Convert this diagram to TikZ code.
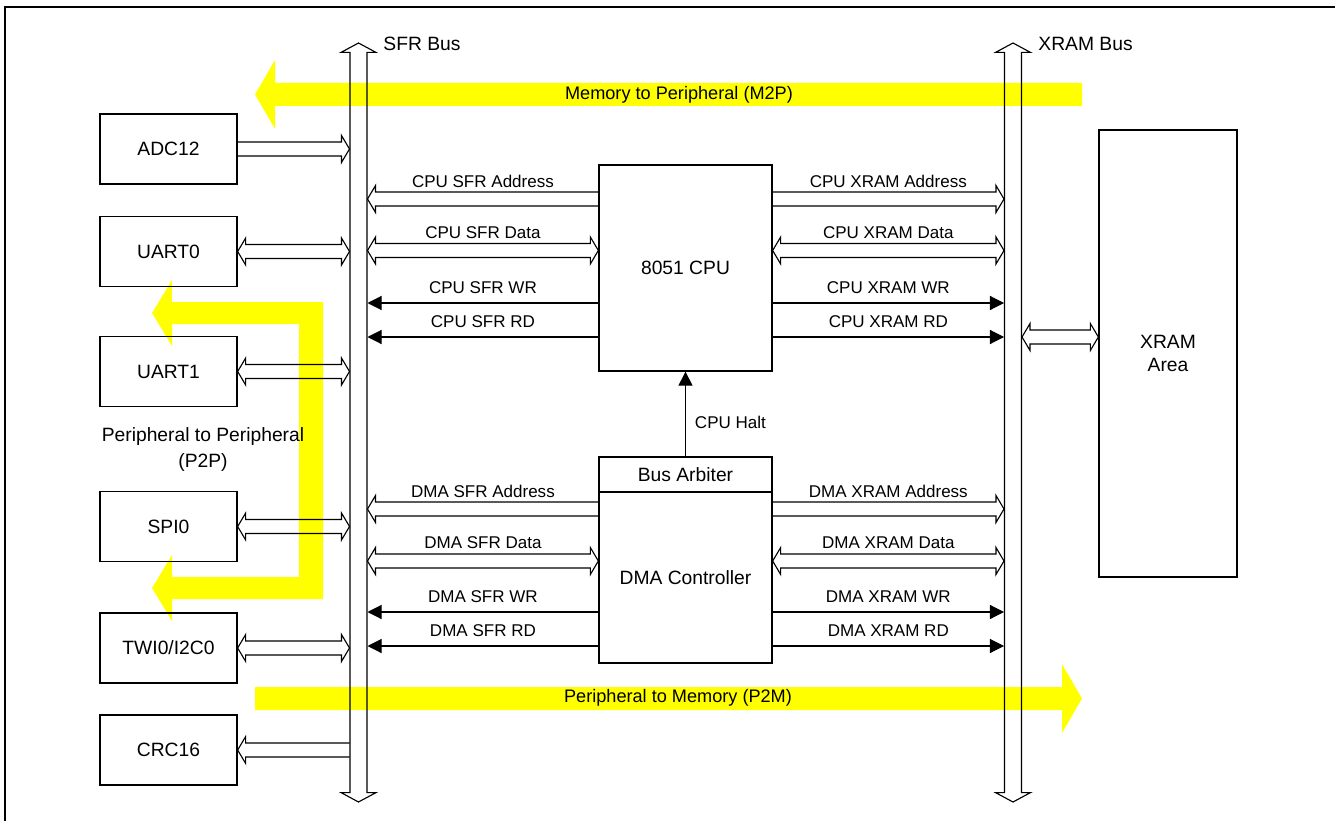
\documentclass[tikz,border=0pt]{standalone}
\usepackage{fontspec}
\setmainfont{Liberation Sans}
\usetikzlibrary{arrows.meta, calc}
\definecolor{flowyellow}{RGB}{255,255,0}
\newcommand{\biglabel}{\fontsize{13.7pt}{17.8pt}\selectfont}
\newcommand{\smalllabel}{\fontsize{12.1pt}{14.5pt}\selectfont}
\newcommand{\flowlabel}{\fontsize{12.9pt}{15pt}\selectfont}

% hollow block arrow sizes: half body width, half head width, head length
\def\hbody{4.98pt}
\def\hhead{9.6pt}
\def\hlen{5.7pt}

% hollow arrow, head at the second end
\newcommand{\hollowone}[3]{%
  \coordinate (ha) at #1; \coordinate (hb) at #2;
  \coordinate (hbbase) at ($(hb)!\hlen!(ha)$);
  \draw[hollowline] ($(ha)!\hbody!90:(hb)$) -- ($(hbbase)!\hbody!90:(hb)$) -- ($(hbbase)!\hhead!90:(hb)$) -- (hb)
    -- ($(hbbase)!\hhead!-90:(hb)$) -- ($(hbbase)!\hbody!-90:(hb)$) -- ($(ha)!\hbody!-90:(hb)$);
  \path (ha) -- (hb) node[widelabel] {#3};}

% hollow arrow, heads at both ends
\newcommand{\hollowtwo}[3]{%
  \coordinate (ha) at #1; \coordinate (hb) at #2;
  \coordinate (habase) at ($(ha)!\hlen!(hb)$);
  \coordinate (hbbase) at ($(hb)!\hlen!(ha)$);
  \draw[hollowline] (ha) -- ($(habase)!\hhead!90:(hb)$) -- ($(habase)!\hbody!90:(hb)$) -- ($(hbbase)!\hbody!90:(hb)$)
    -- ($(hbbase)!\hhead!90:(hb)$) -- (hb) -- ($(hbbase)!\hhead!-90:(hb)$) -- ($(hbbase)!\hbody!-90:(hb)$)
    -- ($(habase)!\hbody!-90:(hb)$) -- ($(habase)!\hhead!-90:(hb)$) -- cycle;
  \path (ha) -- (hb) node[widelabel] {#3};}

\begin{document}
\begin{tikzpicture}[x=0.025cm, y=-0.025cm,
  every node/.style={font=\biglabel},
  periph/.style={draw, line width=0.9pt, minimum width=3.425cm, minimum height=1.75cm},
  unit/.style={draw, line width=0.9pt, minimum width=4.325cm},
  hollowline/.style={line width=0.8pt},
  signal/.style={line width=0.8pt, -{Triangle[length=10pt, width=10pt]}},
  widelabel/.style={font=\smalllabel, midway, yshift=12.8pt},
  wirelabel/.style={font=\smalllabel, midway, yshift=11pt}]
  \useasboundingbox (0,0) rectangle (1335,821);

  % Frame
  \draw[line width=1.5pt] (5,821) -- (5,7) -- (1335,7);

  % Buses
  \coordinate (sfrtop) at (358.5,43);
  \coordinate (sfrbot) at (358.5,802);
  \coordinate (xramtop) at (1013,43);
  \coordinate (xrambot) at (1013,802);
  \coordinate (sfrL) at (349.5,0);
  \coordinate (sfrR) at (367.5,0);
  \coordinate (xramL) at (1004,0);
  \coordinate (xramR) at (1022,0);
  \begin{scope}
    \def\hbody{6.05pt}\def\hhead{12.45pt}\def\hlen{6.7pt}
    \hollowtwo{(sfrtop)}{(sfrbot)}{}
    \hollowtwo{(xramtop)}{(xrambot)}{}
  \end{scope}
  \node[anchor=west] (sfrlabel) at (378.5,44) {SFR Bus};
  \node[anchor=west] (xramlabel) at (1033.5,44) {XRAM Bus};

  % Peripherals
  \node[periph] (adc) at (168.5,149) {ADC12};
  \node[periph] (uart0) at (168.5,251.5) {UART0};
  \node[periph] (uart1) at (168.5,371.5) {UART1};
  \node[periph] (spi0) at (168.5,526.5) {SPI0};
  \node[periph] (twi0) at (168.5,648) {TWI0/I2C0};
  \node[periph] (crc) at (168.5,750) {CRC16};

  \hollowone{(adc.east)}{(adc.east -| sfrL)}{}
  \hollowtwo{(uart0.east)}{(uart0.east -| sfrL)}{}
  \hollowtwo{(uart1.east)}{(uart1.east -| sfrL)}{}
  \hollowtwo{(spi0.east)}{(spi0.east -| sfrL)}{}
  \hollowtwo{(twi0.east)}{(twi0.east -| sfrL)}{}
  \hollowone{(crc.east -| sfrL)}{(crc.east)}{}

  % CPU, arbiter, DMA, XRAM
  \node[unit, minimum height=5.15cm] (cpu) at (685.5,268) {8051 CPU};
  \node[unit, minimum height=0.875cm] (arbiter) at (685.5,474.5) {Bus Arbiter};
  \node[unit, minimum height=4.275cm] (dma) at (685.5,577.5) {DMA Controller};
  \node[draw, line width=0.9pt, minimum width=3.45cm, minimum height=11.175cm, align=center] (xram) at (1168,353.5) {XRAM\\[-1.5pt]Area};

  % Signal rows
  \coordinate (cpuaddr) at (0,199);
  \coordinate (cpudata) at (0,250.5);
  \coordinate (cpuwr) at (0,303);
  \coordinate (cpurd) at (0,337);
  \coordinate (dmaaddr) at (0,509);
  \coordinate (dmadata) at (0,561);
  \coordinate (dmawr) at (0,612);
  \coordinate (dmard) at (0,646);
  \coordinate (xramrow) at (0,337);

  % CPU to SFR bus
  \hollowone{(cpu.west |- cpuaddr)}{(sfrR |- cpuaddr)}{CPU SFR Address}
  \hollowtwo{(cpu.west |- cpudata)}{(sfrR |- cpudata)}{CPU SFR Data}
  \draw[signal] (cpu.west |- cpuwr) -- (sfrR |- cpuwr) node[wirelabel] {CPU SFR WR};
  \draw[signal] (cpu.west |- cpurd) -- (sfrR |- cpurd) node[wirelabel] {CPU SFR RD};

  % CPU to XRAM bus
  \hollowone{(cpu.east |- cpuaddr)}{(xramL |- cpuaddr)}{CPU XRAM Address}
  \hollowtwo{(cpu.east |- cpudata)}{(xramL |- cpudata)}{CPU XRAM Data}
  \draw[signal] (cpu.east |- cpuwr) -- (xramL |- cpuwr) node[wirelabel] {CPU XRAM WR};
  \draw[signal] (cpu.east |- cpurd) -- (xramL |- cpurd) node[wirelabel] {CPU XRAM RD};

  % DMA to SFR bus
  \hollowone{(dma.west |- dmaaddr)}{(sfrR |- dmaaddr)}{DMA SFR Address}
  \hollowtwo{(dma.west |- dmadata)}{(sfrR |- dmadata)}{DMA SFR Data}
  \draw[signal] (dma.west |- dmawr) -- (sfrR |- dmawr) node[wirelabel] {DMA SFR WR};
  \draw[signal] (dma.west |- dmard) -- (sfrR |- dmard) node[wirelabel] {DMA SFR RD};

  % DMA to XRAM bus
  \hollowone{(dma.east |- dmaaddr)}{(xramL |- dmaaddr)}{DMA XRAM Address}
  \hollowtwo{(dma.east |- dmadata)}{(xramL |- dmadata)}{DMA XRAM Data}
  \draw[signal] (dma.east |- dmawr) -- (xramL |- dmawr) node[wirelabel] {DMA XRAM WR};
  \draw[signal] (dma.east |- dmard) -- (xramL |- dmard) node[wirelabel] {DMA XRAM RD};

  % Halt and XRAM link
  \draw[signal] (arbiter.north) -- (cpu.south) node[midway, right, xshift=3pt, yshift=-5.7pt, font=\smalllabel] {CPU Halt};
  \hollowtwo{(xramR |- xramrow)}{(xram.west |- xramrow)}{}

  % Data flows, multiplied so the lines stay on top
  \node[font=\flowlabel] (m2p) at (679,95) {Memory to Peripheral (M2P)};
  \node[font=\flowlabel] (p2m) at (678,698) {Peripheral to Memory (P2M)};
  \node[align=center] (p2p) at (203,449.5) {Peripheral to Peripheral\\(P2P)};
  \begin{scope}[blend mode=multiply]
    \fill[flowyellow] (1082,83) -- (275,83) -- (275,60) -- (255,94.5) -- (275,129) -- (275,106) -- (1082,106) -- cycle;
    \fill[flowyellow] (255,687) -- (1062,687) -- (1062,664) -- (1082,698.5) -- (1062,733) -- (1062,710) -- (255,710) -- cycle;
    \fill[flowyellow] (152,313) -- (172,280) -- (172,302) -- (323,302) -- (323,599) -- (172,599) -- (172,621) -- (152,588) -- (172,555) -- (172,577) -- (299,577) -- (299,324) -- (172,324) -- (172,346) -- cycle;
  \end{scope}
\end{tikzpicture}
\end{document}
